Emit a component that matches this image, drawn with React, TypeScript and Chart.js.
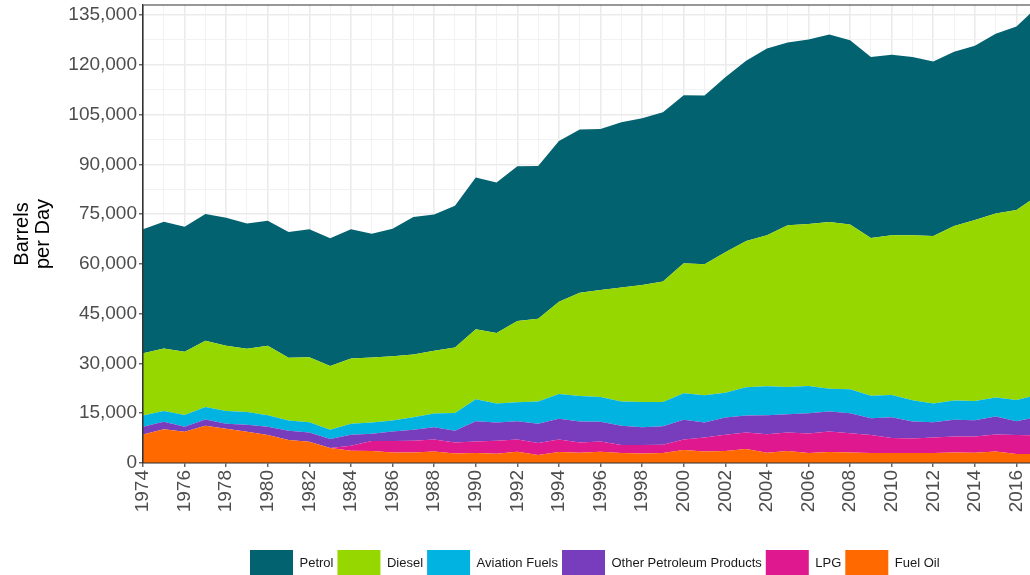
import { useEffect, useRef } from "react";
import { Chart, registerables } from "chart.js";

Chart.register(...registerables);

const years = [
  1974, 1975, 1976, 1977, 1978, 1979, 1980, 1981, 1982, 1983,
  1984, 1985, 1986, 1987, 1988, 1989, 1990, 1991, 1992, 1993,
  1994, 1995, 1996, 1997, 1998, 1999, 2000, 2001, 2002, 2003,
  2004, 2005, 2006, 2007, 2008, 2009, 2010, 2011, 2012, 2013,
  2014, 2015, 2016, 2017,
];

const fuelOil = [
  8600, 10200, 9400, 11200, 10300, 9400, 8400, 6900, 6400, 4500,
  3700, 3600, 3200, 3200, 3500, 2900, 3000, 2800, 3400, 2400,
  3300, 3100, 3400, 3000, 2900, 3000, 3900, 3500, 3600, 4200,
  3100, 3600, 3000, 3300, 3200, 3000, 3000, 3000, 3000, 3200,
  3100, 3500, 2700, 2700,
];

const lpg = [
  0, 0, 0, 0, 0, 0, 0, 0, 0, 0,
  1500, 3000, 3400, 3500, 3600, 3300, 3500, 3900, 3700, 3600,
  3800, 3100, 3100, 2400, 2500, 2500, 3200, 4200, 4900, 5000,
  5600, 5600, 5900, 6200, 5800, 5400, 4500, 4400, 4700, 4800,
  4900, 5100, 5700, 5600,
];

const otherProducts = [
  2300, 2200, 1500, 1900, 1500, 2100, 2500, 2800, 2800, 2700,
  3300, 2200, 2900, 3300, 3700, 3500, 6100, 5500, 5500, 5800,
  6200, 6300, 5900, 5800, 5400, 5600, 5900, 4500, 5200, 5100,
  5700, 5500, 6100, 6000, 6000, 5100, 6300, 5100, 4600, 5000,
  4900, 5400, 4200, 5500,
];

const aviation = [
  3400, 3300, 3600, 3800, 3900, 3900, 3500, 3100, 3100, 2800,
  3300, 3400, 3300, 3800, 4100, 5400, 6600, 5700, 5700, 6700,
  7500, 7700, 7500, 7300, 7600, 7300, 8000, 8200, 7500, 8500,
  8700, 8200, 8200, 6900, 7200, 6800, 6700, 6400, 5600, 5800,
  5800, 5700, 6400, 6700,
];

const diesel = [
  18800, 18800, 19000, 19900, 19600, 19000, 20900, 18900, 19600, 19200,
  19700, 19600, 19400, 18900, 18900, 19700, 21100, 21300, 24500, 25000,
  27800, 31100, 32200, 34400, 35200, 36300, 39200, 39500, 42300, 44100,
  45500, 48700, 48800, 50200, 49700, 47500, 48100, 49700, 50500, 52600,
  54500, 55500, 57200, 60000,
];

const petrol = [
  37300, 38200, 37700, 38200, 38600, 37800, 37700, 37900, 38500, 38500,
  38900, 37300, 38400, 41400, 41100, 42700, 45700, 45300, 46600, 46000,
  48400, 49200, 48500, 49800, 50300, 51000, 50600, 50800, 52700, 54300,
  56300, 55100, 55600, 56500, 55500, 54500, 54400, 53700, 52600, 52500,
  52500, 54100, 55300, 56900,
];

// bottom of stack first
const seriesNames = ["Fuel Oil", "LPG", "Other Petroleum Products", "Aviation Fuels", "Diesel", "Petrol"];
const seriesValues = [fuelOil, lpg, otherProducts, aviation, diesel, petrol];
const seriesColors = ["#FF6900", "#E0188F", "#773DBD", "#00B3E1", "#97D700", "#03626F"];

// y grid positions (labelled every 15,000, minor lines between)
const yTickValues = [
  0, 7500, 15000, 22500, 30000, 37500, 45000, 52500, 60000, 67500,
  75000, 82500, 90000, 97500, 105000, 112500, 120000, 127500, 135000,
];
const yLabelStep = 15000;
const xMin = 1974;
const xMax = 2016.65;
const yMax = 138000;

const FONT = "'Liberation Sans', Arial, Helvetica, sans-serif";

const framePlugin = {
  id: "frame",
  afterDatasetsDraw(chart: any) {
    const { ctx, chartArea: a } = chart;
    ctx.save();
    ctx.strokeStyle = "#333333";
    ctx.lineWidth = 1.1;
    ctx.beginPath();
    ctx.moveTo(a.left, a.top);
    ctx.lineTo(a.right, a.top);
    ctx.moveTo(a.left, a.top);
    ctx.lineTo(a.left, a.bottom);
    ctx.moveTo(a.left, a.bottom);
    ctx.lineTo(a.right, a.bottom);
    ctx.stroke();
    ctx.restore();
  },
};

const legendPlacePlugin = {
  id: "legendPlace",
  afterLayout(chart: any) {
    const lg = chart.legend;
    if (!lg) return;
    const dy = 546 - lg.top;
    lg.top += dy;
    lg.bottom += dy;
    const w = lg.right - lg.left;
    lg.left = 246;
    lg.right = 246 + w;
  },
};

const isMajorY = (c: any) => !!c.tick && c.tick.value % yLabelStep === 0;
const isMajorX = (c: any) => !!c.tick && c.tick.value % 2 === 0;

export default function App() {
  const ref = useRef<HTMLCanvasElement | null>(null);

  useEffect(() => {
    if (!ref.current) return;
    const datasets = seriesNames.map((name, i) => ({
      label: name,
      data: years.map((yr, j) => ({ x: yr, y: seriesValues[i][j] })),
      backgroundColor: seriesColors[i],
      borderColor: seriesColors[i],
      borderWidth: 0,
      pointRadius: 0,
      pointHoverRadius: 0,
      tension: 0,
      fill: i === 0 ? "origin" : "-1",
    }));

    const chart = new Chart(ref.current, {
      type: "line",
      data: { datasets },
      plugins: [framePlugin, legendPlacePlugin],
      options: {
        animation: false,
        responsive: false,
        layout: { padding: { top: 5, left: 0, right: 0, bottom: 0 } },
        plugins: {
          tooltip: { enabled: false },
          legend: {
            display: true,
            position: "bottom",
            align: "start",
            reverse: true,
            labels: {
              boxWidth: 43,
              boxHeight: 26,
              padding: 4,
              color: "#1a1a1a",
              font: { family: FONT, size: 13 },
            },
          },
        },
        scales: {
          x: {
            type: "linear",
            min: xMin,
            max: xMax,
            afterFit: (s: any) => {
              s.height = 72;
              s.paddingLeft = 0;
              s.paddingRight = 0;
            },
            ticks: {
              stepSize: 1,
              includeBounds: false,
              autoSkip: false,
              minRotation: 90,
              maxRotation: 90,
              padding: 3,
              color: "#4D4D4D",
              font: { family: FONT, size: 19 },
              callback: (v: any) => (Number(v) % 2 === 0 ? String(v) : ""),
            },
            grid: {
              color: (c: any) => (isMajorX(c) ? "#EBEBEB" : "#F0F0F0"),
              lineWidth: (c: any) => (isMajorX(c) ? 1.6 : 0.9),
              tickColor: (c: any) => (isMajorX(c) ? "#333333" : "rgba(0,0,0,0)"),
              tickWidth: 1.1,
              tickLength: 4,
            },
            border: { display: true, color: "#333333", width: 1.1 },
          },
          y: {
            type: "linear",
            stacked: true,
            min: 0,
            max: yMax,
            afterBuildTicks: (s: any) => {
              s.ticks = yTickValues.map((v) => ({ value: v }));
            },
            afterFit: (s: any) => {
              s.width = 143;
              s.paddingTop = 0;
              s.paddingBottom = 0;
            },
            ticks: {
              autoSkip: false,
              padding: 2,
              color: "#4D4D4D",
              font: { family: FONT, size: 19 },
              callback: (v: any) =>
                Number(v) % yLabelStep === 0 ? Number(v).toLocaleString("en-US") : "",
            },
            grid: {
              color: (c: any) => (isMajorY(c) ? "#EBEBEB" : "#F0F0F0"),
              lineWidth: (c: any) => (isMajorY(c) ? 1.6 : 0.9),
              tickColor: (c: any) => (isMajorY(c) ? "#333333" : "rgba(0,0,0,0)"),
              tickWidth: 1.1,
              tickLength: 4,
            },
            border: { display: true, color: "#333333", width: 1.1 },
            title: {
              display: true,
              text: ["Barrels", "per Day"],
              color: "#000000",
              font: { family: FONT, size: 20, lineHeight: 1.05 },
              padding: { top: 12, bottom: 0 },
            },
          },
        },
      },
    } as any);

    return () => chart.destroy();
  }, []);

  return (
    <div style={{ position: "fixed", left: 0, top: 0, width: 1030, height: 575, background: "#fff" }}>
      <canvas ref={ref} width={1030} height={575} />
    </div>
  );
}
